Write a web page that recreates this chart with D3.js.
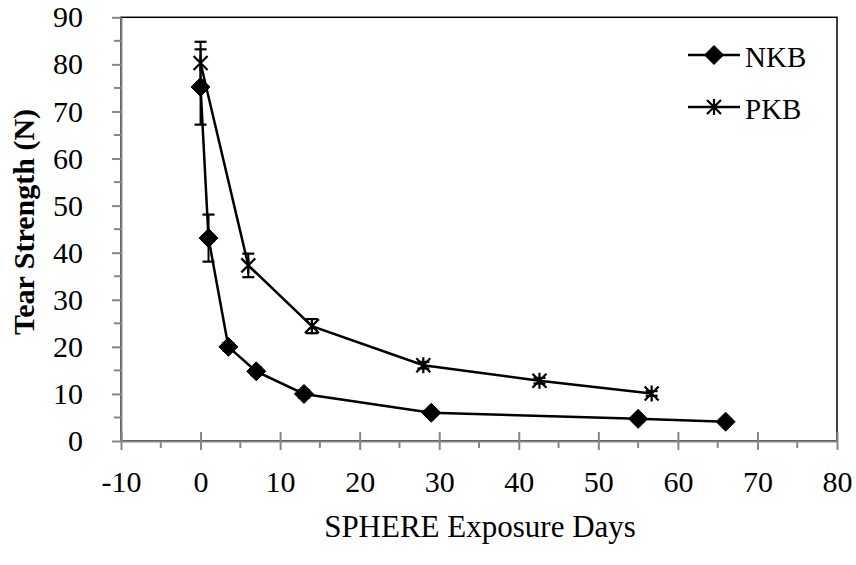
<!DOCTYPE html>
<html><head><meta charset="utf-8">
<script src="https://cdn.jsdelivr.net/npm/d3@7"></script>
<style>body{margin:0;background:#fff}svg{display:block}</style>
</head><body><svg id="c" width="856" height="565"></svg>
<script>
const xTicks = [-10, 0, 10, 20, 30, 40, 50, 60, 70, 80];
const yTicks = [0, 10, 20, 30, 40, 50, 60, 70, 80, 90];
const seriesNames = ["NKB", "PKB"];
const nkbDays = [0, 1, 3.5, 7, 13, 29, 55, 66];
const nkbStrength = [75.2, 43.1, 20.0, 14.8, 10.0, 6.0, 4.7, 4.1];
const nkbError = [8.0, 5.0, 0.8, 0.8, 0.8, 0.6, 0.6, 0.6];
const pkbDays = [0, 6, 14, 28, 42.6, 56.7];
const pkbStrength = [80.3, 37.3, 24.4, 16.1, 12.8, 10.1];
const pkbError = [4.5, 2.5, 1.5, 0.7, 0.6, 0.5];
const xTitle = "SPHERE Exposure Days";
const yTitle = "Tear Strength (N)";

const svg = d3.select("#c");
const L = 121, R = 837, T = 17.3, B = 441;
const x = d3.scaleLinear().domain([-10, 80]).range([L, R]);
const y = d3.scaleLinear().domain([0, 90]).range([B, T]);
const font = "'Liberation Serif', 'Times New Roman', serif";
const axisColor = "#868686";

// plot border
svg.append("rect").attr("x", L).attr("y", T).attr("width", R - L).attr("height", B - T)
  .attr("fill", "none").attr("stroke", "#000").attr("stroke-width", 1.5);

// minor ticks
const xMinor = d3.range(-5, 80, 10);
svg.append("g").selectAll("line").data(xMinor).join("line")
  .attr("x1", d => x(d)).attr("x2", d => x(d)).attr("y1", y(0)).attr("y2", y(0) + 7)
  .attr("stroke", axisColor).attr("stroke-width", 2);
const yMinor = d3.range(5, 90, 10);
svg.append("g").selectAll("line").data(yMinor).join("line")
  .attr("y1", d => y(d)).attr("y2", d => y(d)).attr("x1", L - 7).attr("x2", L)
  .attr("stroke", axisColor).attr("stroke-width", 2);

// x axis
const gx = svg.append("g").attr("transform", `translate(0,${y(0)})`)
  .call(d3.axisBottom(x).tickValues(xTicks).tickSize(9).tickSizeOuter(0).tickPadding(21).tickFormat(d => String(d)));
gx.selectAll(".tick line").attr("y1", -9);
// y axis
const gy = svg.append("g").attr("transform", `translate(${L},0)`)
  .call(d3.axisLeft(y).tickValues(yTicks).tickSize(9).tickSizeOuter(0).tickPadding(29).tickFormat(d => String(d)));
[gx, gy].forEach(g => {
  g.attr("font-family", font).attr("font-size", 30);
  g.select(".domain").attr("stroke", axisColor).attr("stroke-width", 2);
  g.selectAll(".tick line").attr("stroke", axisColor).attr("stroke-width", 2);
  g.selectAll(".tick text").attr("fill", "#000").style("font-family", font);
});

// titles
svg.append("text").attr("x", 480).attr("y", 537).attr("text-anchor", "middle")
  .style("font-family", font).attr("font-size", 31).text(xTitle);
svg.append("text").attr("transform", `translate(34,222) rotate(-90)`).attr("text-anchor", "middle")
  .style("font-family", font).attr("font-size", 30).attr("font-weight", "bold").text(yTitle);

const series = [
  {name: seriesNames[0], xs: nkbDays, ys: nkbStrength, es: nkbError, marker: "diamond"},
  {name: seriesNames[1], xs: pkbDays, ys: pkbStrength, es: pkbError, marker: "star"}
];

function drawMarker(g, type, cx, cy) {
  if (type === "diamond") {
    const r = 9.5;
    g.append("path").attr("d", `M${cx},${cy - r}L${cx + r},${cy}L${cx},${cy + r}L${cx - r},${cy}Z`)
      .attr("fill", "#000").attr("stroke", "#000").attr("stroke-width", 1);
  } else {
    const r = 7;
    g.append("path").attr("d",
      `M${cx - r},${cy - r}L${cx + r},${cy + r}M${cx - r},${cy + r}L${cx + r},${cy - r}M${cx},${cy - r - 1}L${cx},${cy + r + 1}`)
      .attr("fill", "none").attr("stroke", "#000").attr("stroke-width", 2.2);
  }
}

const line = d3.line().x(d => x(d[0])).y(d => y(d[1]));
series.forEach(s => {
  const pts = s.xs.map((v, i) => [v, s.ys[i], s.es[i]]);
  const g = svg.append("g");
  pts.forEach(p => {
    const cx = x(p[0]), y1 = y(p[1] + p[2]), y2 = y(p[1] - p[2]);
    g.append("line").attr("x1", cx).attr("x2", cx).attr("y1", y1).attr("y2", y2)
      .attr("stroke", "#000").attr("stroke-width", 2);
    [y1, y2].forEach(yy => g.append("line").attr("x1", cx - 6).attr("x2", cx + 6).attr("y1", yy).attr("y2", yy)
      .attr("stroke", "#000").attr("stroke-width", 2.2));
  });
  g.append("path").attr("d", line(pts)).attr("fill", "none").attr("stroke", "#000").attr("stroke-width", 2.5);
  pts.forEach(p => drawMarker(g, s.marker, x(p[0]), y(p[1])));
});

// legend
series.forEach((s, i) => {
  const ly = 55 + i * 52;
  const g = svg.append("g");
  g.append("line").attr("x1", 688).attr("x2", 740).attr("y1", ly).attr("y2", ly)
    .attr("stroke", "#000").attr("stroke-width", 2.5);
  drawMarker(g, s.marker, 714, ly);
  g.append("text").attr("x", 745).attr("y", ly + 12).style("font-family", font).attr("font-size", 29).text(s.name);
});
</script></body></html>
